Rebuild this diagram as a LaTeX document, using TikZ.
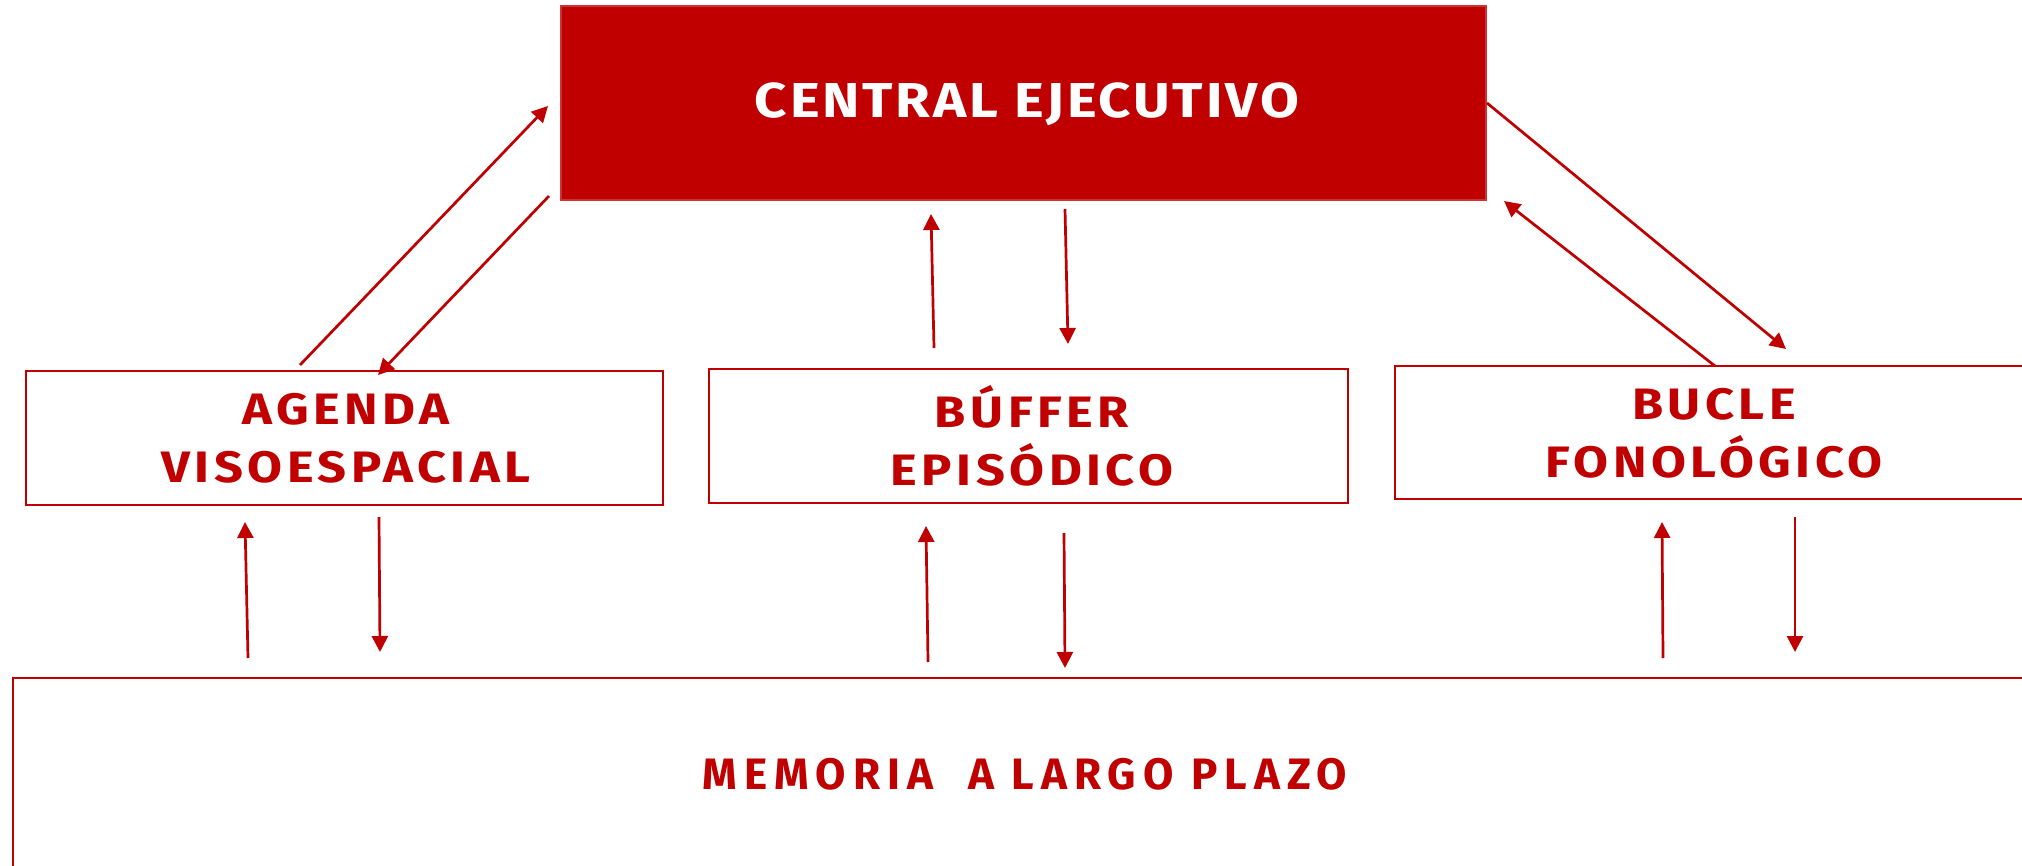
\documentclass[tikz,border=0pt]{standalone}
\usepackage{fontspec}
\setmainfont{Fira Sans}
\usetikzlibrary{arrows.meta}
\definecolor{dred}{RGB}{192,0,0}
\tikzset{
  box/.style={draw=dred, line width=1pt, fill=white, inner sep=0pt, outer sep=0pt},
  cebox/.style={draw=dred!80, line width=0.6pt, fill=dred, inner sep=0pt, outer sep=0pt},
  lbl/.style={text=dred, font=\bfseries\fontsize{22}{29}\selectfont\addfontfeatures{LetterSpace=9}, align=center, inner sep=0pt},
  memlbl/.style={text=dred, font=\bfseries\fontsize{22}{29}\selectfont\addfontfeatures{LetterSpace=16}, inner sep=0pt},
  celbl/.style={text=white, font=\bfseries\fontsize{24.5}{29}\selectfont\addfontfeatures{LetterSpace=5}, inner sep=0pt},
  conn/.style={draw=dred, line width=1.35pt, -{Triangle[length=8pt,width=8pt]}}
}
\begin{document}
\begin{tikzpicture}[x=0.5pt,y=-0.5pt]
\clip (0,0) rectangle (2022,866);
\fill[white] (0,0) rectangle (2022,866);
% boxes
\node[cebox, minimum width=462.5pt, minimum height=97pt] (ce) at (1023.5,103) {};
\node[box, minimum width=318.5pt, minimum height=67pt] (ag) at (344.5,438) {};
\node[box, minimum width=319.5pt, minimum height=67pt] (bf) at (1028.5,436) {};
\node[box, minimum width=317pt, minimum height=66.5pt] (bu) at (1712,432.5) {};
\node[box, minimum width=1011pt, minimum height=110pt] (mem) at (1024,788) {};
% labels
\node[celbl] (tce) at (1027,104) {\scalebox{1.15}[1]{CENTRAL EJECUTIVO}};
\node[lbl] (tag) at (346,438) {\scalebox{1.15}[1]{AGENDA}\\\scalebox{1.15}[1]{VISOESPACIAL}};
\node[lbl] (tbf) at (1032,436) {\scalebox{1.15}[1]{BÚFFER}\\\scalebox{1.15}[1]{EPISÓDICO}};
\node[lbl] (tbu) at (1714,433) {\scalebox{1.15}[1]{BUCLE}\\\scalebox{1.15}[1]{FONOLÓGICO}};
\node[memlbl] (tmem) at (1025,774) {MEMORIA\ \ A LARGO PLAZO};
% connector end points
\coordinate (a1s) at (300,365);  \coordinate (a1e) at (548,106);
\coordinate (a2s) at (549,196);  \coordinate (a2e) at (378,375);
\coordinate (a3s) at (934,348);  \coordinate (a3e) at (931,214);
\coordinate (a4s) at (1065,209); \coordinate (a4e) at (1068,344);
\coordinate (a5s) at (1487,103); \coordinate (a5e) at (1786,349);
\coordinate (a6s) at (1715,366); \coordinate (a6e) at (1504,201);
\coordinate (a7s) at (248,658);  \coordinate (a7e) at (245,522);
\coordinate (a8s) at (379,517);  \coordinate (a8e) at (380,652);
\coordinate (a9s) at (928,662);  \coordinate (a9e) at (926,526);
\coordinate (a10s) at (1064,533); \coordinate (a10e) at (1065,668);
\coordinate (a11s) at (1663,658); \coordinate (a11e) at (1662,522);
\coordinate (a12s) at (1795,517); \coordinate (a12e) at (1795,652);
% connectors
\draw[conn] (a1s) -- (a1e);
\draw[conn] (a2s) -- (a2e);
\draw[conn] (a3s) -- (a3e);
\draw[conn] (a4s) -- (a4e);
\draw[conn] (a5s) -- (a5e);
\draw[conn] (a6s) -- (a6e);
\draw[conn] (a7s) -- (a7e);
\draw[conn] (a8s) -- (a8e);
\draw[conn] (a9s) -- (a9e);
\draw[conn] (a10s) -- (a10e);
\draw[conn] (a11s) -- (a11e);
\draw[conn] (a12s) -- (a12e);
\end{tikzpicture}
\end{document}
